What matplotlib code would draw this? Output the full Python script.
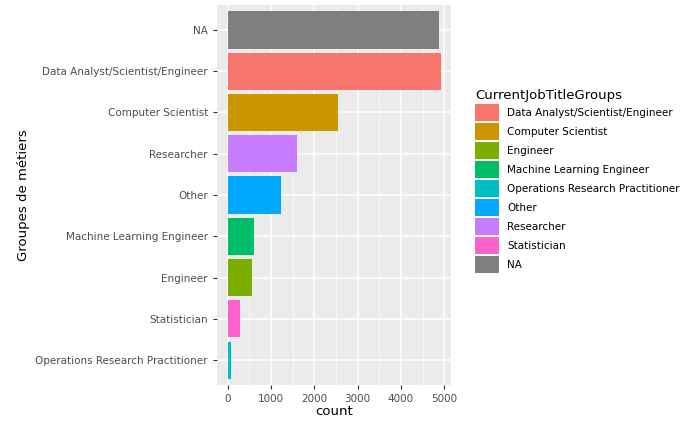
import matplotlib.pyplot as plt
from matplotlib.patches import Patch

# bottom to top
cats = ['Operations Research Practitioner', 'Statistician', 'Engineer', 'Machine Learning Engineer',
        'Other', 'Researcher', 'Computer Scientist', 'Data Analyst/Scientist/Engineer', 'NA']
counts = [70, 278, 556, 602, 1227, 1597, 2546, 4930, 4884]
colors = {'Data Analyst/Scientist/Engineer': '#F8766D', 'Computer Scientist': '#CD9600',
          'Engineer': '#7CAE00', 'Machine Learning Engineer': '#00BE67',
          'Operations Research Practitioner': '#00BFC4', 'Other': '#00A9FF',
          'Researcher': '#C77CFF', 'Statistician': '#FF61CC', 'NA': '#7F7F7F'}
legend_order = ['Data Analyst/Scientist/Engineer', 'Computer Scientist', 'Engineer',
                'Machine Learning Engineer', 'Operations Research Practitioner', 'Other',
                'Researcher', 'Statistician', 'NA']

fig = plt.figure(figsize=(7, 4.32), dpi=100)
ax = fig.add_axes([0.31, 0.109, 0.334, 0.879])
ax.set_facecolor('#EBEBEB')
ax.barh(range(len(cats)), counts, height=0.9, color=[colors[c] for c in cats], zorder=3)
ax.set_yticks(range(len(cats)))
ax.set_yticklabels(cats)
ax.set_ylim(-0.6, len(cats) - 0.4)
ax.set_xlim(-245, 5150)
ax.set_xticks([0, 1000, 2000, 3000, 4000, 5000])
ax.set_xticks([500, 1500, 2500, 3500, 4500], minor=True)
ax.grid(True, which='major', color='white', lw=1.1, zorder=0)
ax.grid(True, which='minor', axis='x', color='white', lw=0.5, zorder=0)
for s in ax.spines.values():
    s.set_visible(False)
ax.tick_params(which='both', colors='#333333', labelsize=7.5, length=3)
ax.tick_params(which='minor', length=0)
for t in ax.get_xticklabels() + ax.get_yticklabels():
    t.set_color('#4D4D4D')
ax.set_xlabel('count', fontsize=9.5, labelpad=1)
ax.set_ylabel('Groupes de métiers', fontsize=9.5)

handles = [Patch(facecolor=colors[c], label=c) for c in legend_order]
leg = fig.legend(handles=handles, loc='upper left', bbox_to_anchor=(0.665, 0.815),
                 frameon=False, title='CurrentJobTitleGroups', fontsize=7.5,
                 title_fontsize=9.5, handlelength=2.3, handleheight=2.2,
                 labelspacing=0.15, handletextpad=0.8, alignment='left')
fig.savefig('out.png')
